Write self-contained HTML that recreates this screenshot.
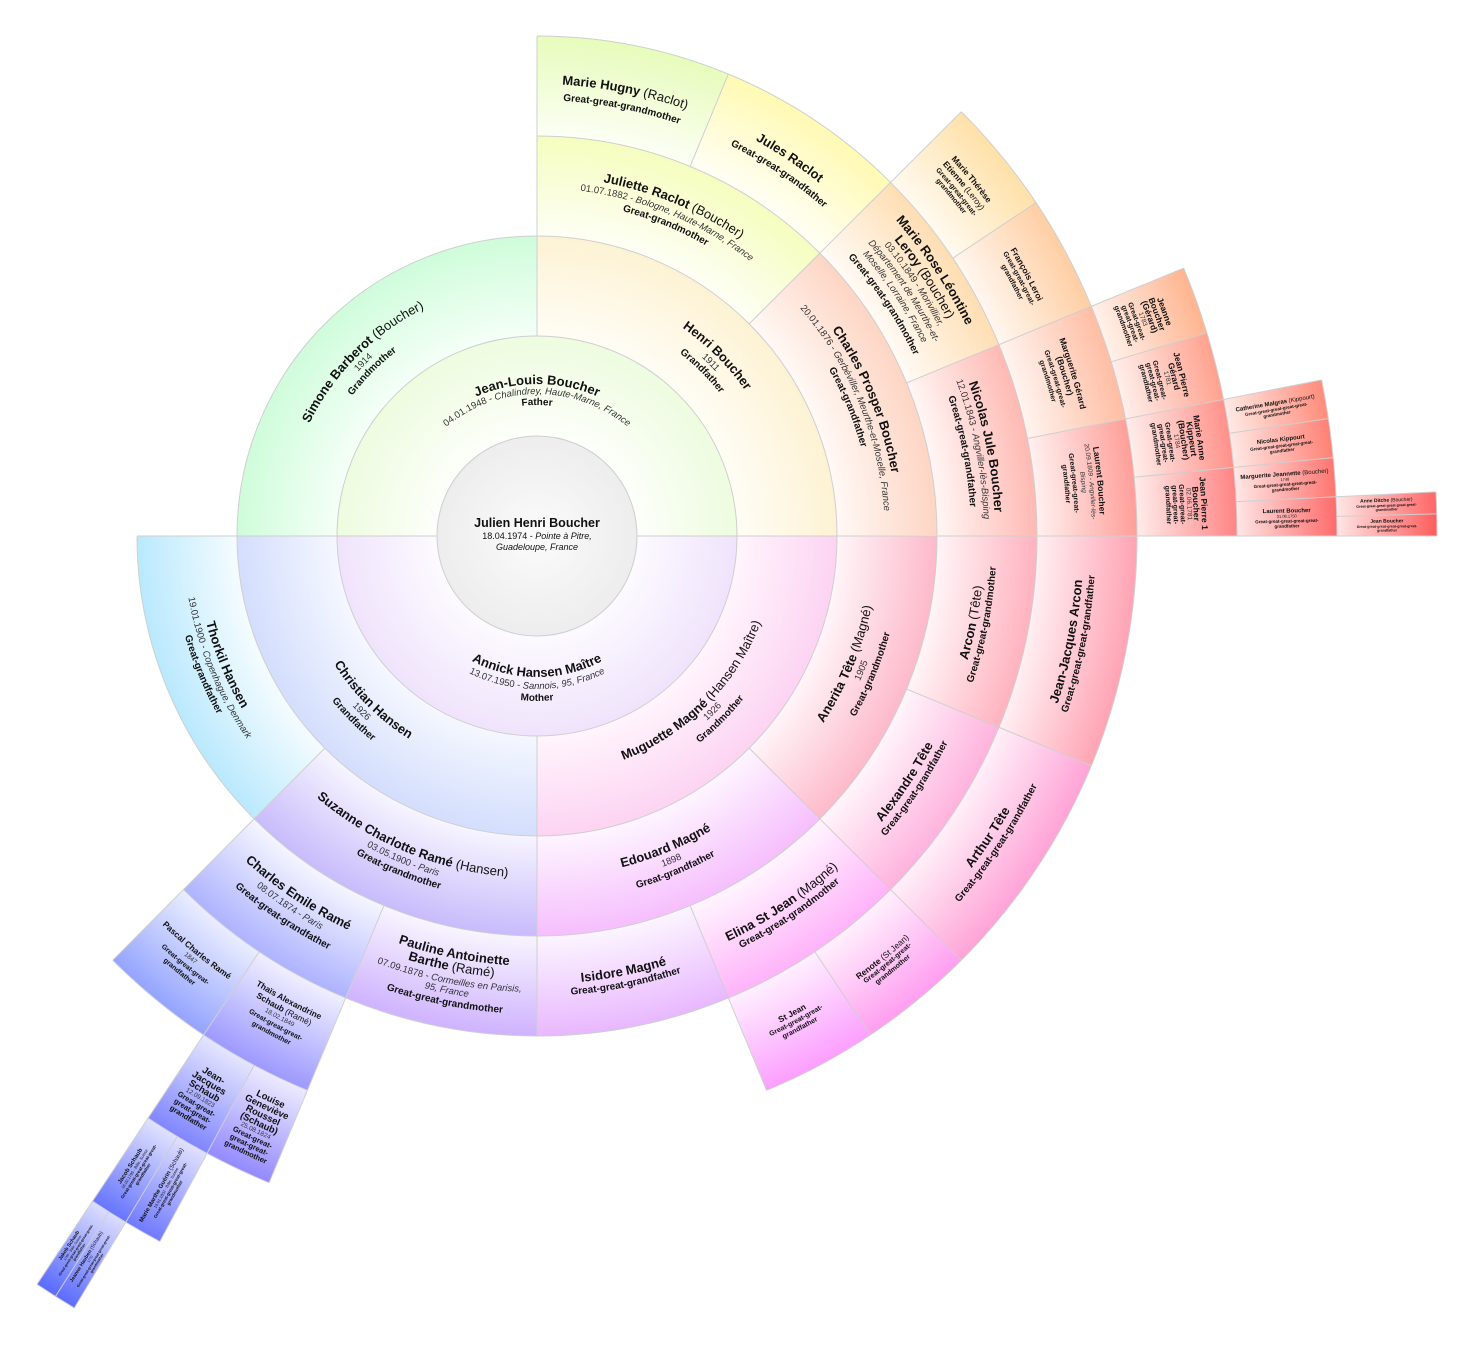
<!DOCTYPE html>
<html><head><meta charset="utf-8">
<style>
html,body{margin:0;padding:0;background:#fff;width:1474px;height:1345px;overflow:hidden;}
svg{display:block;position:absolute;left:0;top:0}
text{font-family:"Liberation Sans",sans-serif;text-anchor:middle;fill:#111}
.n{font-size:13px;font-weight:bold}
.d{font-size:9.5px;fill:#333}
.r{font-size:10px;font-weight:bold}
.n5{font-size:8.5px;font-weight:bold}
.d5{font-size:6.5px;fill:#333}
.r5{font-size:7px;font-weight:bold}
.nl{font-size:9.5px;font-weight:bold}
.rl{font-size:7.5px;font-weight:bold}
.sec{fill:none}
.bd{fill:none;stroke:#cfcfcf;stroke-width:1}
line{stroke:#cfcfcf;stroke-width:1}
</style></head>
<body>
<svg width="1474" height="1345" viewBox="0 0 1474 1345" xmlns="http://www.w3.org/2000/svg">
<defs>
<radialGradient id="cg" cx="0" cy="0" r="100" gradientUnits="userSpaceOnUse"><stop offset="0" stop-color="#fbfbfb"/><stop offset="1" stop-color="#ededed"/></radialGradient>
<radialGradient id="gF" cx="0" cy="0" r="200" gradientUnits="userSpaceOnUse"><stop offset=".5" stop-color="hsl(90,100%,99%)"/><stop offset="1" stop-color="hsl(90,80%,93%)"/></radialGradient>
<radialGradient id="gM" cx="0" cy="0" r="200" gradientUnits="userSpaceOnUse"><stop offset=".5" stop-color="hsl(270,100%,99%)"/><stop offset="1" stop-color="hsl(270,80%,94%)"/></radialGradient>
<radialGradient id="gSi" cx="0" cy="0" r="300" gradientUnits="userSpaceOnUse"><stop offset=".667" stop-color="hsl(135,100%,98%)"/><stop offset="1" stop-color="hsl(135,90%,90%)"/></radialGradient>
<radialGradient id="gHe" cx="0" cy="0" r="300" gradientUnits="userSpaceOnUse"><stop offset=".667" stop-color="hsl(45,100%,98%)"/><stop offset="1" stop-color="hsl(45,90%,91%)"/></radialGradient>
<radialGradient id="gMu" cx="0" cy="0" r="300" gradientUnits="userSpaceOnUse"><stop offset=".667" stop-color="hsl(315,100%,98%)"/><stop offset="1" stop-color="hsl(315,90%,91%)"/></radialGradient>
<radialGradient id="gCh" cx="0" cy="0" r="300" gradientUnits="userSpaceOnUse"><stop offset=".667" stop-color="hsl(225,100%,98%)"/><stop offset="1" stop-color="hsl(225,90%,91%)"/></radialGradient>
<radialGradient id="gJu" cx="0" cy="0" r="400" gradientUnits="userSpaceOnUse"><stop offset=".75" stop-color="hsl(68,100%,98%)"/><stop offset="1" stop-color="hsl(68,95%,87%)"/></radialGradient>
<radialGradient id="gCP" cx="0" cy="0" r="400" gradientUnits="userSpaceOnUse"><stop offset=".75" stop-color="hsl(23,100%,98%)"/><stop offset="1" stop-color="hsl(18,95%,88%)"/></radialGradient>
<radialGradient id="gAn" cx="0" cy="0" r="400" gradientUnits="userSpaceOnUse"><stop offset=".75" stop-color="hsl(338,100%,98%)"/><stop offset="1" stop-color="hsl(345,95%,86%)"/></radialGradient>
<radialGradient id="gEd" cx="0" cy="0" r="400" gradientUnits="userSpaceOnUse"><stop offset=".75" stop-color="hsl(293,100%,98%)"/><stop offset="1" stop-color="hsl(293,95%,87%)"/></radialGradient>
<radialGradient id="gSu" cx="0" cy="0" r="400" gradientUnits="userSpaceOnUse"><stop offset=".75" stop-color="hsl(252,100%,98%)"/><stop offset="1" stop-color="hsl(252,90%,86%)"/></radialGradient>
<radialGradient id="gTh" cx="0" cy="0" r="400" gradientUnits="userSpaceOnUse"><stop offset=".75" stop-color="hsl(200,100%,98%)"/><stop offset="1" stop-color="hsl(198,95%,86%)"/></radialGradient>
<radialGradient id="gHu" cx="0" cy="0" r="500" gradientUnits="userSpaceOnUse"><stop offset=".8" stop-color="hsl(79,100%,98%)"/><stop offset="1" stop-color="hsl(79,90%,86%)"/></radialGradient>
<radialGradient id="gJR" cx="0" cy="0" r="500" gradientUnits="userSpaceOnUse"><stop offset=".8" stop-color="hsl(56,100%,98%)"/><stop offset="1" stop-color="hsl(56,100%,85%)"/></radialGradient>
<radialGradient id="gMR" cx="0" cy="0" r="500" gradientUnits="userSpaceOnUse"><stop offset=".8" stop-color="hsl(34,100%,98%)"/><stop offset="1" stop-color="hsl(34,100%,85%)"/></radialGradient>
<radialGradient id="gNi" cx="0" cy="0" r="500" gradientUnits="userSpaceOnUse"><stop offset=".8" stop-color="hsl(8,100%,98%)"/><stop offset="1" stop-color="hsl(5,100%,85%)"/></radialGradient>
<radialGradient id="gAr" cx="0" cy="0" r="500" gradientUnits="userSpaceOnUse"><stop offset=".8" stop-color="hsl(349,100%,98%)"/><stop offset="1" stop-color="hsl(350,100%,85%)"/></radialGradient>
<radialGradient id="gAl" cx="0" cy="0" r="500" gradientUnits="userSpaceOnUse"><stop offset=".8" stop-color="hsl(326,100%,98%)"/><stop offset="1" stop-color="hsl(326,100%,85%)"/></radialGradient>
<radialGradient id="gEl" cx="0" cy="0" r="500" gradientUnits="userSpaceOnUse"><stop offset=".8" stop-color="hsl(304,100%,98%)"/><stop offset="1" stop-color="hsl(304,100%,85%)"/></radialGradient>
<radialGradient id="gIs" cx="0" cy="0" r="500" gradientUnits="userSpaceOnUse"><stop offset=".8" stop-color="hsl(281,100%,98%)"/><stop offset="1" stop-color="hsl(281,100%,86%)"/></radialGradient>
<radialGradient id="gPa" cx="0" cy="0" r="500" gradientUnits="userSpaceOnUse"><stop offset=".8" stop-color="hsl(262,100%,98%)"/><stop offset="1" stop-color="hsl(262,100%,85%)"/></radialGradient>
<radialGradient id="gCE" cx="0" cy="0" r="500" gradientUnits="userSpaceOnUse"><stop offset=".8" stop-color="hsl(236,100%,98%)"/><stop offset="1" stop-color="hsl(236,100%,84%)"/></radialGradient>
<radialGradient id="gMT" cx="0" cy="0" r="600" gradientUnits="userSpaceOnUse"><stop offset=".833" stop-color="hsl(39,100%,97%)"/><stop offset="1" stop-color="hsl(39,100%,83%)"/></radialGradient>
<radialGradient id="gFL" cx="0" cy="0" r="600" gradientUnits="userSpaceOnUse"><stop offset=".833" stop-color="hsl(28,100%,97%)"/><stop offset="1" stop-color="hsl(28,100%,82%)"/></radialGradient>
<radialGradient id="gMG" cx="0" cy="0" r="600" gradientUnits="userSpaceOnUse"><stop offset=".833" stop-color="hsl(17,100%,97%)"/><stop offset="1" stop-color="hsl(17,100%,82%)"/></radialGradient>
<radialGradient id="gLB" cx="0" cy="0" r="600" gradientUnits="userSpaceOnUse"><stop offset=".833" stop-color="hsl(5,100%,97%)"/><stop offset="1" stop-color="hsl(3,100%,80%)"/></radialGradient>
<radialGradient id="gJA" cx="0" cy="0" r="600" gradientUnits="userSpaceOnUse"><stop offset=".833" stop-color="hsl(349,100%,97%)"/><stop offset="1" stop-color="hsl(349,100%,82%)"/></radialGradient>
<radialGradient id="gAT" cx="0" cy="0" r="600" gradientUnits="userSpaceOnUse"><stop offset=".833" stop-color="hsl(326,100%,97%)"/><stop offset="1" stop-color="hsl(326,100%,82%)"/></radialGradient>
<radialGradient id="gRe" cx="0" cy="0" r="600" gradientUnits="userSpaceOnUse"><stop offset=".833" stop-color="hsl(309,100%,97%)"/><stop offset="1" stop-color="hsl(309,100%,81%)"/></radialGradient>
<radialGradient id="gSJ" cx="0" cy="0" r="600" gradientUnits="userSpaceOnUse"><stop offset=".833" stop-color="hsl(298,100%,97%)"/><stop offset="1" stop-color="hsl(298,100%,81%)"/></radialGradient>
<radialGradient id="gTA" cx="0" cy="0" r="600" gradientUnits="userSpaceOnUse"><stop offset=".833" stop-color="hsl(242,100%,97%)"/><stop offset="1" stop-color="hsl(242,100%,80%)"/></radialGradient>
<radialGradient id="gPC" cx="0" cy="0" r="600" gradientUnits="userSpaceOnUse"><stop offset=".833" stop-color="hsl(231,100%,96%)"/><stop offset="1" stop-color="hsl(231,100%,79%)"/></radialGradient>
<radialGradient id="gJe" cx="0" cy="0" r="700" gradientUnits="userSpaceOnUse"><stop offset=".857" stop-color="hsl(20,100%,96%)"/><stop offset="1" stop-color="hsl(20,100%,78%)"/></radialGradient>
<radialGradient id="gJG" cx="0" cy="0" r="700" gradientUnits="userSpaceOnUse"><stop offset=".857" stop-color="hsl(14,100%,96%)"/><stop offset="1" stop-color="hsl(10,100%,78%)"/></radialGradient>
<radialGradient id="gMA" cx="0" cy="0" r="700" gradientUnits="userSpaceOnUse"><stop offset=".857" stop-color="hsl(8,100%,96%)"/><stop offset="1" stop-color="hsl(4,100%,77%)"/></radialGradient>
<radialGradient id="gJ1" cx="0" cy="0" r="700" gradientUnits="userSpaceOnUse"><stop offset=".857" stop-color="hsl(3,100%,96%)"/><stop offset="1" stop-color="hsl(0,100%,76%)"/></radialGradient>
<radialGradient id="gLo" cx="0" cy="0" r="700" gradientUnits="userSpaceOnUse"><stop offset=".857" stop-color="hsl(245,100%,96%)"/><stop offset="1" stop-color="hsl(245,100%,77%)"/></radialGradient>
<radialGradient id="gJS" cx="0" cy="0" r="700" gradientUnits="userSpaceOnUse"><stop offset=".857" stop-color="hsl(239,100%,95%)"/><stop offset="1" stop-color="hsl(237,100%,75%)"/></radialGradient>
<radialGradient id="gCa" cx="0" cy="0" r="800" gradientUnits="userSpaceOnUse"><stop offset=".875" stop-color="hsl(10,100%,95%)"/><stop offset="1" stop-color="hsl(8,100%,74%)"/></radialGradient>
<radialGradient id="gNK" cx="0" cy="0" r="800" gradientUnits="userSpaceOnUse"><stop offset=".875" stop-color="hsl(7,100%,95%)"/><stop offset="1" stop-color="hsl(5,100%,73%)"/></radialGradient>
<radialGradient id="gMJ" cx="0" cy="0" r="800" gradientUnits="userSpaceOnUse"><stop offset=".875" stop-color="hsl(4,100%,95%)"/><stop offset="1" stop-color="hsl(2,100%,72%)"/></radialGradient>
<radialGradient id="gL2" cx="0" cy="0" r="800" gradientUnits="userSpaceOnUse"><stop offset=".875" stop-color="hsl(1,100%,95%)"/><stop offset="1" stop-color="hsl(0,100%,71%)"/></radialGradient>
<radialGradient id="gMM" cx="0" cy="0" r="800" gradientUnits="userSpaceOnUse"><stop offset=".875" stop-color="hsl(240,100%,94%)"/><stop offset="1" stop-color="hsl(236,100%,72%)"/></radialGradient>
<radialGradient id="gJc" cx="0" cy="0" r="800" gradientUnits="userSpaceOnUse"><stop offset=".875" stop-color="hsl(237,100%,94%)"/><stop offset="1" stop-color="hsl(234,100%,70%)"/></radialGradient>
<radialGradient id="gAD" cx="0" cy="0" r="900" gradientUnits="userSpaceOnUse"><stop offset=".889" stop-color="hsl(2,100%,95%)"/><stop offset="1" stop-color="hsl(0,100%,70%)"/></radialGradient>
<radialGradient id="gJB" cx="0" cy="0" r="900" gradientUnits="userSpaceOnUse"><stop offset=".889" stop-color="hsl(1,100%,95%)"/><stop offset="1" stop-color="hsl(0,100%,68%)"/></radialGradient>
<radialGradient id="gJH" cx="0" cy="0" r="900" gradientUnits="userSpaceOnUse"><stop offset=".889" stop-color="hsl(238,100%,93%)"/><stop offset="1" stop-color="hsl(234,100%,68%)"/></radialGradient>
<radialGradient id="gJk" cx="0" cy="0" r="900" gradientUnits="userSpaceOnUse"><stop offset=".889" stop-color="hsl(237,100%,93%)"/><stop offset="1" stop-color="hsl(233,100%,67%)"/></radialGradient>

<path id="t131" d="M-131 0A131 131 0 0 1 131 0"/>
<path id="t142" d="M-142 0A142 142 0 0 1 142 0"/>
<path id="t152" d="M-152 0A152 152 0 0 1 152 0"/>
<path id="t232" d="M-232 0A232 232 0 0 1 232 0"/>
<path id="t243" d="M-243 0A243 243 0 0 1 243 0"/>
<path id="t254" d="M-254 0A254 254 0 0 1 254 0"/>
<path id="t336" d="M-336 0A336 336 0 0 1 336 0"/>
<path id="t348" d="M-348 0A348 348 0 0 1 348 0"/>
<path id="t360" d="M-360 0A360 360 0 0 1 360 0"/>
<path id="t418" d="M-418 0A418 418 0 0 1 418 0"/>
<path id="t431" d="M-431 0A431 431 0 0 1 431 0"/>
<path id="t434" d="M-434 0A434 434 0 0 1 434 0"/>
<path id="t436" d="M-436 0A436 436 0 0 1 436 0"/>
<path id="t442" d="M-442 0A442 442 0 0 1 442 0"/>
<path id="t447" d="M-447 0A447 447 0 0 1 447 0"/>
<path id="t452" d="M-452 0A452 452 0 0 1 452 0"/>
<path id="t453" d="M-453 0A453 453 0 0 1 453 0"/>
<path id="t458" d="M-458 0A458 458 0 0 1 458 0"/>
<path id="t464" d="M-464 0A464 464 0 0 1 464 0"/>
<path id="t478" d="M-478 0A478 478 0 0 1 478 0"/>
<path id="t530" d="M-530 0A530 530 0 0 1 530 0"/>
<path id="t532" d="M-532 0A532 532 0 0 1 532 0"/>
<path id="t534" d="M-534 0A534 534 0 0 1 534 0"/>
<path id="t537" d="M-537 0A537 537 0 0 1 537 0"/>
<path id="t538" d="M-538 0A538 538 0 0 1 538 0"/>
<path id="t540" d="M-540 0A540 540 0 0 1 540 0"/>
<path id="t541" d="M-541 0A541 541 0 0 1 541 0"/>
<path id="t545" d="M-545 0A545 545 0 0 1 545 0"/>
<path id="t547" d="M-547 0A547 547 0 0 1 547 0"/>
<path id="t549" d="M-549 0A549 549 0 0 1 549 0"/>
<path id="t550" d="M-550 0A550 550 0 0 1 550 0"/>
<path id="t553" d="M-553 0A553 553 0 0 1 553 0"/>
<path id="t555" d="M-555 0A555 555 0 0 1 555 0"/>
<path id="t558" d="M-558 0A558 558 0 0 1 558 0"/>
<path id="t560" d="M-560 0A560 560 0 0 1 560 0"/>
<path id="t563" d="M-563 0A563 563 0 0 1 563 0"/>
<path id="t621" d="M-621 0A621 621 0 0 1 621 0"/>
<path id="t624" d="M-624 0A624 624 0 0 1 624 0"/>
<path id="t626" d="M-626 0A626 626 0 0 1 626 0"/>
<path id="t628" d="M-628 0A628 628 0 0 1 628 0"/>
<path id="t630" d="M-630 0A630 630 0 0 1 630 0"/>
<path id="t631" d="M-631 0A631 631 0 0 1 631 0"/>
<path id="t633" d="M-633 0A633 633 0 0 1 633 0"/>
<path id="t635" d="M-635 0A635 635 0 0 1 635 0"/>
<path id="t637" d="M-637 0A637 637 0 0 1 637 0"/>
<path id="t638" d="M-638 0A638 638 0 0 1 638 0"/>
<path id="t640" d="M-640 0A640 640 0 0 1 640 0"/>
<path id="t642" d="M-642 0A642 642 0 0 1 642 0"/>
<path id="t644" d="M-644 0A644 644 0 0 1 644 0"/>
<path id="t645" d="M-645 0A645 645 0 0 1 645 0"/>
<path id="t648" d="M-648 0A648 648 0 0 1 648 0"/>
<path id="t651" d="M-651 0A651 651 0 0 1 651 0"/>
<path id="t654" d="M-654 0A654 654 0 0 1 654 0"/>
<path id="t656" d="M-656 0A656 656 0 0 1 656 0"/>
<path id="t657" d="M-657 0A657 657 0 0 1 657 0"/>
<path id="t659" d="M-659 0A659 659 0 0 1 659 0"/>
<path id="t662" d="M-662 0A662 662 0 0 1 662 0"/>
<path id="t664" d="M-664 0A664 664 0 0 1 664 0"/>
<path id="t665" d="M-665 0A665 665 0 0 1 665 0"/>
<path id="t667" d="M-667 0A667 667 0 0 1 667 0"/>
<path id="b141" d="M-141 0A141 141 0 0 0 141 0"/>
<path id="b153" d="M-153 0A153 153 0 0 0 153 0"/>
<path id="b165" d="M-165 0A165 165 0 0 0 165 0"/>
<path id="b240" d="M-240 0A240 240 0 0 0 240 0"/>
<path id="b251" d="M-251 0A251 251 0 0 0 251 0"/>
<path id="b263" d="M-263 0A263 263 0 0 0 263 0"/>
<path id="b342" d="M-342 0A342 342 0 0 0 342 0"/>
<path id="b354" d="M-354 0A354 354 0 0 0 354 0"/>
<path id="b366" d="M-366 0A366 366 0 0 0 366 0"/>
<path id="b430" d="M-430 0A430 430 0 0 0 430 0"/>
<path id="b437" d="M-437 0A437 437 0 0 0 437 0"/>
<path id="b443" d="M-443 0A443 443 0 0 0 443 0"/>
<path id="b448" d="M-448 0A448 448 0 0 0 448 0"/>
<path id="b449" d="M-449 0A449 449 0 0 0 449 0"/>
<path id="b456" d="M-456 0A456 456 0 0 0 456 0"/>
<path id="b460" d="M-460 0A460 460 0 0 0 460 0"/>
<path id="b463" d="M-463 0A463 463 0 0 0 463 0"/>
<path id="b466" d="M-466 0A466 466 0 0 0 466 0"/>
<path id="b478" d="M-478 0A478 478 0 0 0 478 0"/>
<path id="b530" d="M-530 0A530 530 0 0 0 530 0"/>
<path id="b540" d="M-540 0A540 540 0 0 0 540 0"/>
<path id="b544" d="M-544 0A544 544 0 0 0 544 0"/>
<path id="b547" d="M-547 0A547 547 0 0 0 547 0"/>
<path id="b548" d="M-548 0A548 548 0 0 0 548 0"/>
<path id="b552" d="M-552 0A552 552 0 0 0 552 0"/>
<path id="b555" d="M-555 0A555 555 0 0 0 555 0"/>
<path id="b557" d="M-557 0A557 557 0 0 0 557 0"/>
<path id="b559" d="M-559 0A559 559 0 0 0 559 0"/>
<path id="b560" d="M-560 0A560 560 0 0 0 560 0"/>
<path id="b563" d="M-563 0A563 563 0 0 0 563 0"/>
<path id="b566" d="M-566 0A566 566 0 0 0 566 0"/>
<path id="b626" d="M-626 0A626 626 0 0 0 626 0"/>
<path id="b632" d="M-632 0A632 632 0 0 0 632 0"/>
<path id="b635" d="M-635 0A635 635 0 0 0 635 0"/>
<path id="b641" d="M-641 0A641 641 0 0 0 641 0"/>
<path id="b644" d="M-644 0A644 644 0 0 0 644 0"/>
<path id="b650" d="M-650 0A650 650 0 0 0 650 0"/>
<path id="b653" d="M-653 0A653 653 0 0 0 653 0"/>
<path id="b657" d="M-657 0A657 657 0 0 0 657 0"/>
<path id="b660" d="M-660 0A660 660 0 0 0 660 0"/>
<path id="b665" d="M-665 0A665 665 0 0 0 665 0"/>
<path id="b668" d="M-668 0A668 668 0 0 0 668 0"/>
<path id="b673" d="M-673 0A673 673 0 0 0 673 0"/>
<path id="b676" d="M-676 0A676 676 0 0 0 676 0"/>
<path id="b681" d="M-681 0A681 681 0 0 0 681 0"/>
<path id="b684" d="M-684 0A684 684 0 0 0 684 0"/>
</defs>

<g transform="translate(537 536)">
<g class="sec">
<circle r="150" stroke-width="100" pathLength="360" stroke-dasharray="180 360" stroke-dashoffset="-180" stroke="url(#gF)" fill="none"/>
<circle r="150" stroke-width="100" pathLength="360" stroke-dasharray="180 360" stroke-dashoffset="0" stroke="url(#gM)" fill="none"/>
<circle r="250" stroke-width="100" pathLength="360" stroke-dasharray="90 360" stroke-dashoffset="-180" stroke="url(#gSi)" fill="none"/>
<circle r="250" stroke-width="100" pathLength="360" stroke-dasharray="90 360" stroke-dashoffset="-270" stroke="url(#gHe)" fill="none"/>
<circle r="250" stroke-width="100" pathLength="360" stroke-dasharray="90 360" stroke-dashoffset="0" stroke="url(#gMu)" fill="none"/>
<circle r="250" stroke-width="100" pathLength="360" stroke-dasharray="90 360" stroke-dashoffset="-90" stroke="url(#gCh)" fill="none"/>
<circle r="350" stroke-width="100" pathLength="360" stroke-dasharray="45 360" stroke-dashoffset="-270" stroke="url(#gJu)" fill="none"/>
<circle r="350" stroke-width="100" pathLength="360" stroke-dasharray="45 360" stroke-dashoffset="-315" stroke="url(#gCP)" fill="none"/>
<circle r="350" stroke-width="100" pathLength="360" stroke-dasharray="45 360" stroke-dashoffset="0" stroke="url(#gAn)" fill="none"/>
<circle r="350" stroke-width="100" pathLength="360" stroke-dasharray="45 360" stroke-dashoffset="-45" stroke="url(#gEd)" fill="none"/>
<circle r="350" stroke-width="100" pathLength="360" stroke-dasharray="45 360" stroke-dashoffset="-90" stroke="url(#gSu)" fill="none"/>
<circle r="350" stroke-width="100" pathLength="360" stroke-dasharray="45 360" stroke-dashoffset="-135" stroke="url(#gTh)" fill="none"/>
<circle r="450" stroke-width="100" pathLength="360" stroke-dasharray="22.5 360" stroke-dashoffset="-270" stroke="url(#gHu)" fill="none"/>
<circle r="450" stroke-width="100" pathLength="360" stroke-dasharray="22.5 360" stroke-dashoffset="-292.5" stroke="url(#gJR)" fill="none"/>
<circle r="450" stroke-width="100" pathLength="360" stroke-dasharray="22.5 360" stroke-dashoffset="-315" stroke="url(#gMR)" fill="none"/>
<circle r="450" stroke-width="100" pathLength="360" stroke-dasharray="22.5 360" stroke-dashoffset="-337.5" stroke="url(#gNi)" fill="none"/>
<circle r="450" stroke-width="100" pathLength="360" stroke-dasharray="22.5 360" stroke-dashoffset="0" stroke="url(#gAr)" fill="none"/>
<circle r="450" stroke-width="100" pathLength="360" stroke-dasharray="22.5 360" stroke-dashoffset="-22.5" stroke="url(#gAl)" fill="none"/>
<circle r="450" stroke-width="100" pathLength="360" stroke-dasharray="22.5 360" stroke-dashoffset="-45" stroke="url(#gEl)" fill="none"/>
<circle r="450" stroke-width="100" pathLength="360" stroke-dasharray="22.5 360" stroke-dashoffset="-67.5" stroke="url(#gIs)" fill="none"/>
<circle r="450" stroke-width="100" pathLength="360" stroke-dasharray="22.5 360" stroke-dashoffset="-90" stroke="url(#gPa)" fill="none"/>
<circle r="450" stroke-width="100" pathLength="360" stroke-dasharray="22.5 360" stroke-dashoffset="-112.5" stroke="url(#gCE)" fill="none"/>
<circle r="550" stroke-width="100" pathLength="360" stroke-dasharray="11.25 360" stroke-dashoffset="-315" stroke="url(#gMT)" fill="none"/>
<circle r="550" stroke-width="100" pathLength="360" stroke-dasharray="11.25 360" stroke-dashoffset="-326.25" stroke="url(#gFL)" fill="none"/>
<circle r="550" stroke-width="100" pathLength="360" stroke-dasharray="11.25 360" stroke-dashoffset="-337.5" stroke="url(#gMG)" fill="none"/>
<circle r="550" stroke-width="100" pathLength="360" stroke-dasharray="11.25 360" stroke-dashoffset="-348.75" stroke="url(#gLB)" fill="none"/>
<circle r="550" stroke-width="100" pathLength="360" stroke-dasharray="22.5 360" stroke-dashoffset="0" stroke="url(#gJA)" fill="none"/>
<circle r="550" stroke-width="100" pathLength="360" stroke-dasharray="22.5 360" stroke-dashoffset="-22.5" stroke="url(#gAT)" fill="none"/>
<circle r="550" stroke-width="100" pathLength="360" stroke-dasharray="11.25 360" stroke-dashoffset="-45" stroke="url(#gRe)" fill="none"/>
<circle r="550" stroke-width="100" pathLength="360" stroke-dasharray="11.25 360" stroke-dashoffset="-56.25" stroke="url(#gSJ)" fill="none"/>
<circle r="550" stroke-width="100" pathLength="360" stroke-dasharray="11.25 360" stroke-dashoffset="-112.5" stroke="url(#gTA)" fill="none"/>
<circle r="550" stroke-width="100" pathLength="360" stroke-dasharray="11.25 360" stroke-dashoffset="-123.75" stroke="url(#gPC)" fill="none"/>
<circle r="650" stroke-width="100" pathLength="360" stroke-dasharray="5.625 360" stroke-dashoffset="-337.5" stroke="url(#gJe)" fill="none"/>
<circle r="650" stroke-width="100" pathLength="360" stroke-dasharray="5.625 360" stroke-dashoffset="-343.125" stroke="url(#gJG)" fill="none"/>
<circle r="650" stroke-width="100" pathLength="360" stroke-dasharray="5.625 360" stroke-dashoffset="-348.75" stroke="url(#gMA)" fill="none"/>
<circle r="650" stroke-width="100" pathLength="360" stroke-dasharray="5.625 360" stroke-dashoffset="-354.375" stroke="url(#gJ1)" fill="none"/>
<circle r="650" stroke-width="100" pathLength="360" stroke-dasharray="5.625 360" stroke-dashoffset="-112.5" stroke="url(#gLo)" fill="none"/>
<circle r="650" stroke-width="100" pathLength="360" stroke-dasharray="5.625 360" stroke-dashoffset="-118.125" stroke="url(#gJS)" fill="none"/>
<circle r="750" stroke-width="100" pathLength="360" stroke-dasharray="2.8125 360" stroke-dashoffset="-348.75" stroke="url(#gCa)" fill="none"/>
<circle r="750" stroke-width="100" pathLength="360" stroke-dasharray="2.8125 360" stroke-dashoffset="-351.5625" stroke="url(#gNK)" fill="none"/>
<circle r="750" stroke-width="100" pathLength="360" stroke-dasharray="2.8125 360" stroke-dashoffset="-354.375" stroke="url(#gMJ)" fill="none"/>
<circle r="750" stroke-width="100" pathLength="360" stroke-dasharray="2.8125 360" stroke-dashoffset="-357.1875" stroke="url(#gL2)" fill="none"/>
<circle r="750" stroke-width="100" pathLength="360" stroke-dasharray="2.8125 360" stroke-dashoffset="-118.125" stroke="url(#gMM)" fill="none"/>
<circle r="750" stroke-width="100" pathLength="360" stroke-dasharray="2.8125 360" stroke-dashoffset="-120.9375" stroke="url(#gJc)" fill="none"/>
<circle r="850" stroke-width="100" pathLength="360" stroke-dasharray="1.40625 360" stroke-dashoffset="-357.1875" stroke="url(#gAD)" fill="none"/>
<circle r="850" stroke-width="100" pathLength="360" stroke-dasharray="1.40625 360" stroke-dashoffset="-358.59375" stroke="url(#gJB)" fill="none"/>
<circle r="850" stroke-width="100" pathLength="360" stroke-dasharray="1.40625 360" stroke-dashoffset="-120.9375" stroke="url(#gJH)" fill="none"/>
<circle r="850" stroke-width="100" pathLength="360" stroke-dasharray="1.40625 360" stroke-dashoffset="-122.34375" stroke="url(#gJk)" fill="none"/>
</g>

<circle r="100" fill="url(#cg)" stroke="#cfcfcf" stroke-width="1"/>
<circle class="bd" r="200"/>
<circle class="bd" r="300"/>
<circle class="bd" r="400" pathLength="360" stroke-dasharray="90 360" stroke-dashoffset="-270"/>
<circle class="bd" r="400" pathLength="360" stroke-dasharray="180 360" stroke-dashoffset="0"/>
<circle class="bd" r="500" pathLength="360" stroke-dasharray="90 360" stroke-dashoffset="-270"/>
<circle class="bd" r="500" pathLength="360" stroke-dasharray="135 360" stroke-dashoffset="0"/>
<circle class="bd" r="600" pathLength="360" stroke-dasharray="45 360" stroke-dashoffset="-315"/>
<circle class="bd" r="600" pathLength="360" stroke-dasharray="67.5 360" stroke-dashoffset="0"/>
<circle class="bd" r="600" pathLength="360" stroke-dasharray="22.5 360" stroke-dashoffset="-112.5"/>
<circle class="bd" r="700" pathLength="360" stroke-dasharray="22.5 360" stroke-dashoffset="-337.5"/>
<circle class="bd" r="700" pathLength="360" stroke-dasharray="11.25 360" stroke-dashoffset="-112.5"/>
<circle class="bd" r="800" pathLength="360" stroke-dasharray="11.25 360" stroke-dashoffset="-348.75"/>
<circle class="bd" r="800" pathLength="360" stroke-dasharray="5.625 360" stroke-dashoffset="-118.125"/>
<circle class="bd" r="900" pathLength="360" stroke-dasharray="2.8125 360" stroke-dashoffset="-357.1875"/>
<circle class="bd" r="900" pathLength="360" stroke-dasharray="2.8125 360" stroke-dashoffset="-120.9375"/>

<line x1="100" x2="900" y1="0" y2="0"/>
<line x1="100" x2="400" y1="0" y2="0" transform="rotate(180)"/>
<line x1="200" x2="500" y1="0" y2="0" transform="rotate(90)"/>
<line x1="200" x2="500" y1="0" y2="0" transform="rotate(270)"/>
<line x1="300" x2="600" y1="0" y2="0" transform="rotate(315)"/>
<line x1="300" x2="600" y1="0" y2="0" transform="rotate(45)"/>
<line x1="300" x2="600" y1="0" y2="0" transform="rotate(135)"/>
<line x1="400" x2="700" y1="0" y2="0" transform="rotate(337.5)"/>
<line x1="400" x2="600" y1="0" y2="0" transform="rotate(22.5)"/>
<line x1="400" x2="600" y1="0" y2="0" transform="rotate(67.5)"/>
<line x1="400" x2="700" y1="0" y2="0" transform="rotate(112.5)"/>
<line x1="400" x2="500" y1="0" y2="0" transform="rotate(292.5)"/>
<line x1="500" x2="600" y1="0" y2="0" transform="rotate(326.25)"/>
<line x1="500" x2="800" y1="0" y2="0" transform="rotate(348.75)"/>
<line x1="500" x2="600" y1="0" y2="0" transform="rotate(56.25)"/>
<line x1="500" x2="900" y1="0" y2="0" transform="rotate(123.75)"/>
<line x1="600" x2="700" y1="0" y2="0" transform="rotate(343.125)"/>
<line x1="600" x2="800" y1="0" y2="0" transform="rotate(354.375)"/>
<line x1="600" x2="800" y1="0" y2="0" transform="rotate(118.125)"/>
<line x1="700" x2="800" y1="0" y2="0" transform="rotate(351.5625)"/>
<line x1="700" x2="900" y1="0" y2="0" transform="rotate(357.1875)"/>
<line x1="700" x2="900" y1="0" y2="0" transform="rotate(120.9375)"/>
<line x1="800" x2="900" y1="0" y2="0" transform="rotate(358.59375)"/>
<line x1="800" x2="900" y1="0" y2="0" transform="rotate(122.34375)"/>

<text y="-9" font-size="12.5" font-weight="bold">Julien Henri Boucher</text>
<text y="3" font-size="9" fill="#333">18.04.1974 - <tspan font-style="italic">Pointe à Pitre,</tspan></text>
<text y="14" font-size="9" fill="#333" font-style="italic">Guadeloupe, France</text>

<g>
<text class="n"><textPath href="#t152" startOffset="50%">Jean-Louis Boucher</textPath></text>
<text class="d"><textPath href="#t142" startOffset="50%">04.01.1948 - <tspan font-style="italic">Chalindrey, Haute-Marne, France</tspan></textPath></text>
<text class="r"><textPath href="#t131" startOffset="50%">Father</textPath></text>
</g>
<g>
<text class="n"><textPath href="#b141" startOffset="50%">Annick Hansen Maître</textPath></text>
<text class="d"><textPath href="#b153" startOffset="50%">13.07.1950 - <tspan font-style="italic">Sannois, 95, France</tspan></textPath></text>
<text class="r"><textPath href="#b165" startOffset="50%">Mother</textPath></text>
</g>

<g transform="rotate(-45)">
<text class="n"><textPath href="#t254" startOffset="50%">Simone Barberot <tspan font-weight="normal">(Boucher)</tspan></textPath></text>
<text class="d"><textPath href="#t243" startOffset="50%">1914</textPath></text>
<text class="r"><textPath href="#t232" startOffset="50%">Grandmother</textPath></text>
</g>
<g transform="rotate(45)">
<text class="n"><textPath href="#t254" startOffset="50%">Henri Boucher</textPath></text>
<text class="d"><textPath href="#t243" startOffset="50%">1911</textPath></text>
<text class="r"><textPath href="#t232" startOffset="50%">Grandfather</textPath></text>
</g>
<g transform="rotate(45)">
<text class="n"><textPath href="#b240" startOffset="50%">Christian Hansen</textPath></text>
<text class="d"><textPath href="#b251" startOffset="50%">1926</textPath></text>
<text class="r"><textPath href="#b263" startOffset="50%">Grandfather</textPath></text>
</g>
<g transform="rotate(-45)">
<text class="n"><textPath href="#b240" startOffset="50%">Muguette Magné <tspan font-weight="normal">(Hansen Maître)</tspan></textPath></text>
<text class="d"><textPath href="#b251" startOffset="50%">1926</textPath></text>
<text class="r"><textPath href="#b263" startOffset="50%">Grandmother</textPath></text>
</g>

<g transform="rotate(22.5)">
<text class="n"><textPath href="#t360" startOffset="50%">Juliette Raclot <tspan font-weight="normal">(Boucher)</tspan></textPath></text>
<text class="d"><textPath href="#t348" startOffset="50%">01.07.1882 - <tspan font-style="italic">Bologne, Haute-Marne, France</tspan></textPath></text>
<text class="r"><textPath href="#t336" startOffset="50%">Great-grandmother</textPath></text>
</g>
<g transform="rotate(67.5)">
<text class="n"><textPath href="#t360" startOffset="50%">Charles Prosper Boucher</textPath></text>
<text class="d"><textPath href="#t348" startOffset="50%">20.01.1876 - <tspan font-style="italic">Gerbéviller, Meurthe-et-Moselle, France</tspan></textPath></text>
<text class="r"><textPath href="#t336" startOffset="50%">Great-grandfather</textPath></text>
</g>
<g transform="rotate(-67.5)">
<text class="n"><textPath href="#b342" startOffset="50%">Anerita Tête <tspan font-weight="normal">(Magné)</tspan></textPath></text>
<text class="d"><textPath href="#b354" startOffset="50%">1905</textPath></text>
<text class="r"><textPath href="#b366" startOffset="50%">Great-grandmother</textPath></text>
</g>
<g transform="rotate(-22.5)">
<text class="n"><textPath href="#b342" startOffset="50%">Edouard Magné</textPath></text>
<text class="d"><textPath href="#b354" startOffset="50%">1898</textPath></text>
<text class="r"><textPath href="#b366" startOffset="50%">Great-grandfather</textPath></text>
</g>
<g transform="rotate(22.5)">
<text class="n"><textPath href="#b342" startOffset="50%">Suzanne Charlotte Ramé <tspan font-weight="normal">(Hansen)</tspan></textPath></text>
<text class="d"><textPath href="#b354" startOffset="50%">03.05.1900 - <tspan font-style="italic">Paris</tspan></textPath></text>
<text class="r"><textPath href="#b366" startOffset="50%">Great-grandmother</textPath></text>
</g>
<g transform="rotate(67.5)">
<text class="n"><textPath href="#b342" startOffset="50%">Thorkil Hansen</textPath></text>
<text class="d"><textPath href="#b354" startOffset="50%">19.01.1900 - <tspan font-style="italic">Copenhague, Denmark</tspan></textPath></text>
<text class="r"><textPath href="#b366" startOffset="50%">Great-grandfather</textPath></text>
</g>

<g transform="rotate(11.25)">
<text class="n"><textPath href="#t452" startOffset="50%">Marie Hugny <tspan font-weight="normal">(Raclot)</tspan></textPath></text>
<text class="r"><textPath href="#t436" startOffset="50%">Great-great-grandmother</textPath></text>
</g>
<g transform="rotate(33.75)">
<text class="n"><textPath href="#t452" startOffset="50%">Jules Raclot</textPath></text>
<text class="r"><textPath href="#t436" startOffset="50%">Great-great-grandfather</textPath></text>
</g>
<g transform="rotate(56.25)">
<text class="n"><textPath href="#t478" startOffset="50%">Marie Rose Léontine</textPath></text>
<text class="n"><textPath href="#t464" startOffset="50%">Leroy <tspan font-weight="normal">(Boucher)</tspan></textPath></text>
<text class="d"><textPath href="#t453" startOffset="50%">03.10.1849 - <tspan font-style="italic">Morivillier,</tspan></textPath></text>
<text class="d" font-style="italic"><textPath href="#t442" startOffset="50%">Département de Meurthe-et-</textPath></text>
<text class="d" font-style="italic"><textPath href="#t431" startOffset="50%">Moselle, Lorraine, France</textPath></text>
<text class="r"><textPath href="#t418" startOffset="50%">Great-great-grandmother</textPath></text>
</g>
<g transform="rotate(78.75)">
<text class="n"><textPath href="#t458" startOffset="50%">Nicolas Jule Boucher</textPath></text>
<text class="d"><textPath href="#t447" startOffset="50%">12.01.1843 - <tspan font-style="italic">Angviller-lès-Bisping</tspan></textPath></text>
<text class="r"><textPath href="#t434" startOffset="50%">Great-great-grandfather</textPath></text>
</g>
<g transform="rotate(-78.75)">
<text class="n"><textPath href="#b448" startOffset="50%">Arcon <tspan font-weight="normal">(Tête)</tspan></textPath></text>
<text class="r"><textPath href="#b460" startOffset="50%">Great-great-grandmother</textPath></text>
</g>
<g transform="rotate(-56.25)">
<text class="n"><textPath href="#b448" startOffset="50%">Alexandre Tête</textPath></text>
<text class="r"><textPath href="#b460" startOffset="50%">Great-great-grandfather</textPath></text>
</g>
<g transform="rotate(-33.75)">
<text class="n"><textPath href="#b448" startOffset="50%">Elina St Jean <tspan font-weight="normal">(Magné)</tspan></textPath></text>
<text class="r"><textPath href="#b460" startOffset="50%">Great-great-grandmother</textPath></text>
</g>
<g transform="rotate(-11.25)">
<text class="n"><textPath href="#b448" startOffset="50%">Isidore Magné</textPath></text>
<text class="r"><textPath href="#b460" startOffset="50%">Great-great-grandfather</textPath></text>
</g>
<g transform="rotate(11.25)">
<text class="n"><textPath href="#b430" startOffset="50%">Pauline Antoinette</textPath></text>
<text class="n"><textPath href="#b443" startOffset="50%">Barthe <tspan font-weight="normal">(Ramé)</tspan></textPath></text>
<text class="d"><textPath href="#b456" startOffset="50%">07.09.1878 - <tspan font-style="italic">Cormeilles en Parisis,</tspan></textPath></text>
<text class="d" font-style="italic"><textPath href="#b466" startOffset="50%">95, France</textPath></text>
<text class="r"><textPath href="#b478" startOffset="50%">Great-great-grandmother</textPath></text>
</g>
<g transform="rotate(33.75)">
<text class="n"><textPath href="#b437" startOffset="50%">Charles Emile Ramé</textPath></text>
<text class="d"><textPath href="#b449" startOffset="50%">08.07.1874 - <tspan font-style="italic">Paris</tspan></textPath></text>
<text class="r"><textPath href="#b463" startOffset="50%">Great-great-grandfather</textPath></text>
</g>

<g transform="rotate(50.625)">
<text class="n5"><textPath href="#t560" startOffset="50%">Marie Thérèse</textPath></text>
<text class="n5"><textPath href="#t550" startOffset="50%">Etienne <tspan font-weight="normal">(Leroy)</tspan></textPath></text>
<text class="r5"><textPath href="#t541" startOffset="50%">Great-great-great-</textPath></text>
<text class="r5"><textPath href="#t534" startOffset="50%">grandmother</textPath></text>
</g>
<g transform="rotate(61.875)">
<text class="n5"><textPath href="#t553" startOffset="50%">François Leroi</textPath></text>
<text class="r5"><textPath href="#t545" startOffset="50%">Great-great-great-</textPath></text>
<text class="r5"><textPath href="#t537" startOffset="50%">grandfather</textPath></text>
</g>
<g transform="rotate(73.125)">
<text class="n5"><textPath href="#t558" startOffset="50%">Marguerite Gérard</textPath></text>
<text class="n5" font-weight="normal"><textPath href="#t549" startOffset="50%">(Boucher)</textPath></text>
<text class="r5"><textPath href="#t540" startOffset="50%">Great-great-great-</textPath></text>
<text class="r5"><textPath href="#t532" startOffset="50%">grandmother</textPath></text>
</g>
<g transform="rotate(84.375)">
<text class="n5"><textPath href="#t563" startOffset="50%">Laurent Boucher</textPath></text>
<text class="d5"><textPath href="#t555" startOffset="50%">20.09.1809 - <tspan font-style="italic">Angviller-lès-</tspan></textPath></text>
<text class="d5" font-style="italic"><textPath href="#t547" startOffset="50%">Bisping</textPath></text>
<text class="r5"><textPath href="#t538" startOffset="50%">Great-great-great-</textPath></text>
<text class="r5"><textPath href="#t530" startOffset="50%">grandfather</textPath></text>
</g>
<g transform="rotate(-78.75)">
<text class="n"><textPath href="#b547" startOffset="50%">Jean-Jacques Arcon</textPath></text>
<text class="r"><textPath href="#b559" startOffset="50%">Great-great-great-grandfather</textPath></text>
</g>
<g transform="rotate(-56.25)">
<text class="n"><textPath href="#b547" startOffset="50%">Arthur Tête</textPath></text>
<text class="r"><textPath href="#b559" startOffset="50%">Great-great-great-grandfather</textPath></text>
</g>
<g transform="rotate(-39.375)">
<text class="n5"><textPath href="#b548" startOffset="50%">Renote <tspan font-weight="normal">(St Jean)</tspan></textPath></text>
<text class="r5"><textPath href="#b555" startOffset="50%">Great-great-great-</textPath></text>
<text class="r5"><textPath href="#b563" startOffset="50%">grandmother</textPath></text>
</g>
<g transform="rotate(-28.125)">
<text class="n5"><textPath href="#b544" startOffset="50%">St Jean</textPath></text>
<text class="r5"><textPath href="#b552" startOffset="50%">Great-great-great-</textPath></text>
<text class="r5"><textPath href="#b560" startOffset="50%">grandfather</textPath></text>
</g>
<g transform="rotate(28.125)">
<text class="n5"><textPath href="#b530" startOffset="50%">Thaïs Alexandrine</textPath></text>
<text class="n5"><textPath href="#b540" startOffset="50%">Schaub <tspan font-weight="normal">(Ramé)</tspan></textPath></text>
<text class="d5"><textPath href="#b548" startOffset="50%">18.02.1849</textPath></text>
<text class="r5"><textPath href="#b557" startOffset="50%">Great-great-great-</textPath></text>
<text class="r5"><textPath href="#b566" startOffset="50%">grandmother</textPath></text>
</g>
<g transform="rotate(39.375)">
<text class="n5"><textPath href="#b540" startOffset="50%">Pascal Charles Ramé</textPath></text>
<text class="d5"><textPath href="#b548" startOffset="50%">1847</textPath></text>
<text class="r5"><textPath href="#b557" startOffset="50%">Great-great-great-</textPath></text>
<text class="r5"><textPath href="#b566" startOffset="50%">grandfather</textPath></text>
</g>

<g transform="rotate(70.3125)">
<text class="n5"><textPath href="#t664" startOffset="50%">Jeanne</textPath></text>
<text class="n5"><textPath href="#t656" startOffset="50%">Boucher</textPath></text>
<text class="n5" font-weight="normal"><textPath href="#t648" startOffset="50%">(Gérard)</textPath></text>
<text class="d5"><textPath href="#t642" startOffset="50%">1783</textPath></text>
<text class="r5"><textPath href="#t635" startOffset="50%">Great-great-</textPath></text>
<text class="r5"><textPath href="#t628" startOffset="50%">great-great-</textPath></text>
<text class="r5"><textPath href="#t621" startOffset="50%">grandmother</textPath></text>
</g>
<g transform="rotate(75.9375)">
<text class="n5"><textPath href="#t662" startOffset="50%">Jean Pierre</textPath></text>
<text class="n5"><textPath href="#t654" startOffset="50%">Gérard</textPath></text>
<text class="d5"><textPath href="#t648" startOffset="50%">1781</textPath></text>
<text class="r5"><textPath href="#t640" startOffset="50%">Great-great-</textPath></text>
<text class="r5"><textPath href="#t633" startOffset="50%">great-great-</textPath></text>
<text class="r5"><textPath href="#t626" startOffset="50%">grandfather</textPath></text>
</g>
<g transform="rotate(81.5625)">
<text class="n5"><textPath href="#t667" startOffset="50%">Marie Anne</textPath></text>
<text class="n5"><textPath href="#t659" startOffset="50%">Kippeurt</textPath></text>
<text class="n5" font-weight="normal"><textPath href="#t651" startOffset="50%">(Boucher)</textPath></text>
<text class="d5"><textPath href="#t645" startOffset="50%">1784</textPath></text>
<text class="r5"><textPath href="#t638" startOffset="50%">Great-great-</textPath></text>
<text class="r5"><textPath href="#t631" startOffset="50%">great-great-</textPath></text>
<text class="r5"><textPath href="#t624" startOffset="50%">grandmother</textPath></text>
</g>
<g transform="rotate(87.1875)">
<text class="n5"><textPath href="#t665" startOffset="50%">Jean Pierre 1</textPath></text>
<text class="n5"><textPath href="#t657" startOffset="50%">Boucher</textPath></text>
<text class="d5"><textPath href="#t651" startOffset="50%">02.06.1781</textPath></text>
<text class="r5"><textPath href="#t644" startOffset="50%">Great-great-</textPath></text>
<text class="r5"><textPath href="#t637" startOffset="50%">great-great-</textPath></text>
<text class="r5"><textPath href="#t630" startOffset="50%">grandfather</textPath></text>
</g>
<g transform="rotate(25.3125)">
<text class="nl"><textPath href="#b626" startOffset="50%">Louise</textPath></text>
<text class="nl"><textPath href="#b635" startOffset="50%">Geneviève</textPath></text>
<text class="nl"><textPath href="#b644" startOffset="50%">Roussel</textPath></text>
<text class="nl" font-weight="normal"><textPath href="#b653" startOffset="50%">(Schaub)</textPath></text>
<text class="d5"><textPath href="#b660" startOffset="50%">25.08.1824</textPath></text>
<text class="rl"><textPath href="#b668" startOffset="50%">Great-great-</textPath></text>
<text class="rl"><textPath href="#b676" startOffset="50%">great-great-</textPath></text>
<text class="rl"><textPath href="#b684" startOffset="50%">grandmother</textPath></text>
</g>
<g transform="rotate(30.9375)">
<text class="nl"><textPath href="#b632" startOffset="50%">Jean-</textPath></text>
<text class="nl"><textPath href="#b641" startOffset="50%">Jacques</textPath></text>
<text class="nl"><textPath href="#b650" startOffset="50%">Schaub</textPath></text>
<text class="d5"><textPath href="#b657" startOffset="50%">12.09.1823</textPath></text>
<text class="rl"><textPath href="#b665" startOffset="50%">Great-great-</textPath></text>
<text class="rl"><textPath href="#b673" startOffset="50%">great-great-</textPath></text>
<text class="rl"><textPath href="#b681" startOffset="50%">grandfather</textPath></text>
</g>

<g transform="rotate(350.15625) translate(750 0)">
<text y="-3" font-size="6" font-weight="bold">Catherine Malgras <tspan font-weight="normal">(Kippourt)</tspan></text>
<text y="3" font-size="4.5" font-weight="bold">Great-great-great-great-great-</text>
<text y="8" font-size="4.5" font-weight="bold">grandmother</text>
</g>
<g transform="rotate(352.96875) translate(750 0)">
<text y="-3" font-size="6" font-weight="bold">Nicolas Kippourt</text>
<text y="3" font-size="4.5" font-weight="bold">Great-great-great-great-great-</text>
<text y="8" font-size="4.5" font-weight="bold">grandfather</text>
</g>
<g transform="rotate(355.78125) translate(750 0)">
<text y="-5" font-size="6" font-weight="bold">Marguerite Jeannette <tspan font-weight="normal">(Boucher)</tspan></text>
<text y="0" font-size="4" fill="#444">1748</text>
<text y="5" font-size="4.5" font-weight="bold">Great-great-great-great-great-</text>
<text y="10" font-size="4.5" font-weight="bold">grandmother</text>
</g>
<g transform="rotate(358.59375) translate(750 0)">
<text y="-5" font-size="6" font-weight="bold">Laurent Boucher</text>
<text y="0" font-size="4" fill="#444">31.08.1750</text>
<text y="5" font-size="4.5" font-weight="bold">Great-great-great-great-great-</text>
<text y="10" font-size="4.5" font-weight="bold">grandfather</text>
</g>
<g transform="rotate(122.34375) translate(750 0) rotate(180)">
<text y="-5" font-size="6" font-weight="bold">Jacob Schaub</text>
<text y="0" font-size="4" fill="#444">16.02.1795 - Bâle, Suisse</text>
<text y="5" font-size="4.5" font-weight="bold">Great-great-great-great-great-</text>
<text y="10" font-size="4.5" font-weight="bold">grandfather</text>
</g>
<g transform="rotate(119.53125) translate(750 0) rotate(180)">
<text y="-5" font-size="6" font-weight="bold">Marie Marthe Guérin <tspan font-weight="normal">(Schaub)</tspan></text>
<text y="0" font-size="4" fill="#444">15.01.1802 - Bâle, Suisse</text>
<text y="5" font-size="4.5" font-weight="bold">Great-great-great-great-great-</text>
<text y="10" font-size="4.5" font-weight="bold">grandmother</text>
</g>

<g transform="rotate(357.890625) translate(850 0)">
<text y="-3" font-size="5" font-weight="bold">Anne Ditche <tspan font-weight="normal">(Boucher)</tspan></text>
<text y="2" font-size="3.6" font-weight="bold">Great-great-great-great-great-great-</text>
<text y="6" font-size="3.6" font-weight="bold">grandmother</text>
</g>
<g transform="rotate(359.296875) translate(850 0)">
<text y="-3" font-size="5" font-weight="bold">Jean Boucher</text>
<text y="2" font-size="3.6" font-weight="bold">Great-great-great-great-great-great-</text>
<text y="6" font-size="3.6" font-weight="bold">grandfather</text>
</g>
<g transform="rotate(123.046875) translate(850 0) rotate(180)">
<text y="-4" font-size="5" font-weight="bold">Jakob Schaub</text>
<text y="0" font-size="3.4" fill="#444">1765 - Bâle, Suisse</text>
<text y="4" font-size="3.6" font-weight="bold">Great-great-great-great-great-great-</text>
<text y="8" font-size="3.6" font-weight="bold">grandfather</text>
</g>
<g transform="rotate(121.640625) translate(850 0) rotate(180)">
<text y="-4" font-size="5" font-weight="bold">Jeanne Hauben <tspan font-weight="normal">(Schaub)</tspan></text>
<text y="0" font-size="3.4" fill="#444">1770</text>
<text y="4" font-size="3.6" font-weight="bold">Great-great-great-great-great-great-</text>
<text y="8" font-size="3.6" font-weight="bold">grandmother</text>
</g>
</g>
</svg>
</body></html>
